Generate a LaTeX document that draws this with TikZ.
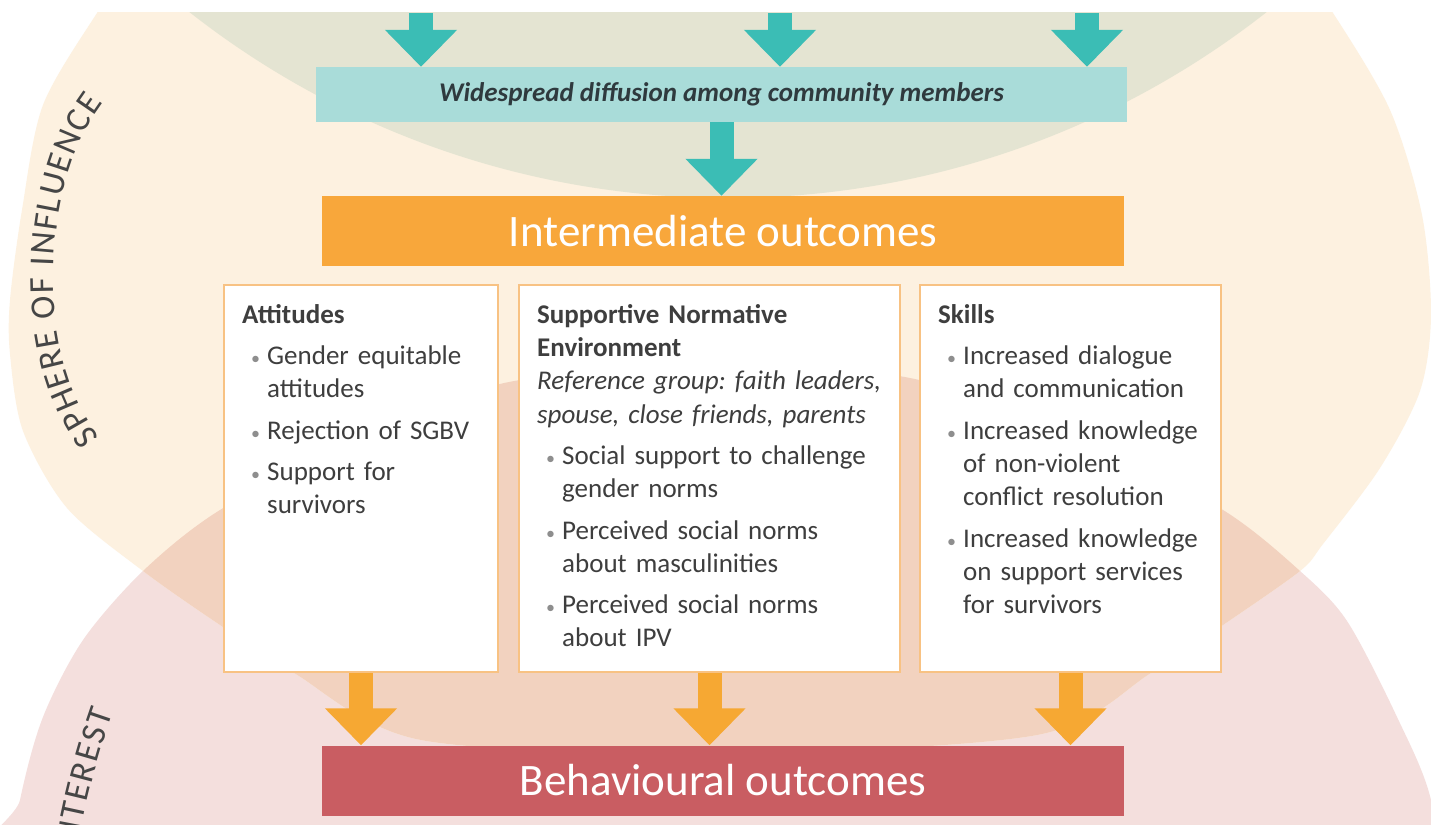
\documentclass[tikz,border=0pt]{standalone}
\usepackage{fontspec}
\setmainfont{Carlito}
\usetikzlibrary{arrows.meta,decorations.text}

\definecolor{ctrlgreen}{HTML}{E4E4D2}
\definecolor{inflcream}{HTML}{FDF1E0}
\definecolor{intpink}{HTML}{F4DFDD}
\definecolor{bothpeach}{HTML}{F2D2BF}
\definecolor{diffteal}{HTML}{A9DCD9}
\definecolor{difftext}{HTML}{2F3A3E}
\definecolor{arrowteal}{HTML}{3BBDB5}
\definecolor{interorange}{HTML}{F8A73B}
\definecolor{arroworange}{HTML}{F6A833}
\definecolor{boxline}{HTML}{F8C283}
\definecolor{behavred}{HTML}{C95D62}
\definecolor{txtgrey}{HTML}{3E3E3E}
\definecolor{dotgrey}{HTML}{8E8E8E}
\definecolor{labelgrey}{HTML}{464646}

% outlines of the two spheres (pixel coordinates, y downwards)
\newcommand{\inflshape}{plot[smooth cycle] coordinates {(200,-110) (135,-40) (97,13) (43,105) (22,210) (10,300) (10,354) (23,431) (67,508) (143,571) (220,625) (294,673) (421,740) (721,754) (1037,735) (1151,673) (1223,625) (1300,571) (1323,544) (1380,468) (1420,391) (1431,315) (1422,215) (1390,110) (1333,13) (1290,-45) (1240,-110) (721,-250)}}
\newcommand{\intshape}{plot[smooth cycle] coordinates {(0,920) (20,800) (43,717) (83,640) (143,571) (220,510) (360,436) (509,382) (721,364) (910,378) (1082,436) (1223,510) (1300,571) (1347,621) (1397,717) (1431,800) (1445,920) (721,1050)}}
\newcommand{\itm}[1]{\par\hangindent=25pt\hangafter=1\noindent\makebox[25pt][l]{\hspace{9pt}\textcolor{dotgrey}{\fontsize{18}{18}\selectfont\textbullet}}#1}

\begin{document}
\begin{tikzpicture}[x=1pt,y=-1pt,
	flowarrow/.style={line width=24pt,-{Triangle[width=70pt,length=37pt]}},
	banner/.style={minimum width=802pt,minimum height=70pt,inner sep=0pt,text=white,font=\fontsize{45}{45}\selectfont},
	outbox/.style={draw=boxline,line width=2pt,fill=white,minimum height=387pt,inner sep=0pt},
	boxtext/.style={anchor=north west,inner sep=0pt,text=txtgrey,font=\fontsize{27}{33.3}\selectfont,
		execute at begin node={\raggedright\frenchspacing\parindent=0pt\parskip=8pt}},
	spherelabel/.style={decorate,decoration={text along path,text align=fit to path,
		text={|\fontsize{35}{35}\selectfont\color{labelgrey}|#1}}}]

	\fill[white] (0,0) rectangle (1431,824);
	\useasboundingbox (0,0) rectangle (1431,824);

	% spheres
	\begin{scope}
		\clip (0,13) rectangle (1431,824);
		\fill[intpink] \intshape;
		\fill[inflcream] \inflshape;
		\begin{scope}
			\clip \intshape;
			\fill[bothpeach] \inflshape;
		\end{scope}
		\fill[ctrlgreen] (728,-675) circle[radius=873];
	\end{scope}

	\path[spherelabel=SPHERE OF INFLUENCE] (100,437) .. controls (35,360) and (40,185) .. (103,103);
	\begin{scope}
		\clip (0,0) rectangle (1431,824);
		\path[spherelabel=SPHERE OF INTEREST] (62,1040) .. controls (62,930) and (75,820) .. (113,712);
	\end{scope}

	% boxes
	\node[fill=diffteal,minimum width=811pt,minimum height=55pt,inner sep=0pt,text=difftext,
		font=\fontsize{27}{27}\selectfont\bfseries\itshape] (diffusion) at (721.5,94.5)
		{Widespread diffusion among community members};
	\node[banner,fill=interorange] (inter) at (723,231) {Intermediate outcomes};
	\node[outbox,minimum width=274pt] (att) at (361,478.5) {};
	\node[outbox,minimum width=381pt] (norm) at (709.5,478.5) {};
	\node[outbox,minimum width=301pt] (skill) at (1070.5,478.5) {};
	\node[banner,fill=behavred] (behav) at (723,780.5) {Behavioural outcomes};

	\node[boxtext,text width=250pt] (atttext) at ([xshift=19pt,yshift=-15.7pt]att.north west)
		{\strut\textbf{Attitudes}
		\itm{Gender equitable\newline attitudes}
		\itm{Rejection of SGBV}
		\itm{Support for\newline survivors}\par};
	\node[boxtext,text width=350pt] (normtext) at ([xshift=19pt,yshift=-15.7pt]norm.north west)
		{\strut\textbf{Supportive Normative\newline Environment}\newline
		\textit{Reference group: faith leaders,\newline spouse, close friends, parents}
		\itm{Social support to challenge\newline gender norms}
		\itm{Perceived social norms\newline about masculinities}
		\itm{Perceived social norms\newline about IPV}\par};
	\node[boxtext,text width=275pt] (skilltext) at ([xshift=19pt,yshift=-15.7pt]skill.north west)
		{\strut\textbf{Skills}
		\itm{Increased dialogue\newline and communication}
		\itm{Increased knowledge\newline of non-violent\newline conflict resolution}
		\itm{Increased knowledge\newline on support services\newline for survivors}\par};

	% arrows
	\coordinate (feed1) at (421,13);
	\coordinate (feed2) at (780,13);
	\coordinate (feed3) at (1087,13);
	\draw[flowarrow,draw=arrowteal] (feed1) -- (feed1 |- diffusion.north);
	\draw[flowarrow,draw=arrowteal] (feed2) -- (feed2 |- diffusion.north);
	\draw[flowarrow,draw=arrowteal] (feed3) -- (feed3 |- diffusion.north);
	\draw[flowarrow,draw=arrowteal] (diffusion.south) -- (diffusion.south |- inter.north);

	\draw[flowarrow,draw=arroworange] (att.south) -- (att.south |- behav.north);
	\draw[flowarrow,draw=arroworange] (norm.south) -- (norm.south |- behav.north);
	\draw[flowarrow,draw=arroworange] (skill.south) -- (skill.south |- behav.north);
\end{tikzpicture}
\end{document}
